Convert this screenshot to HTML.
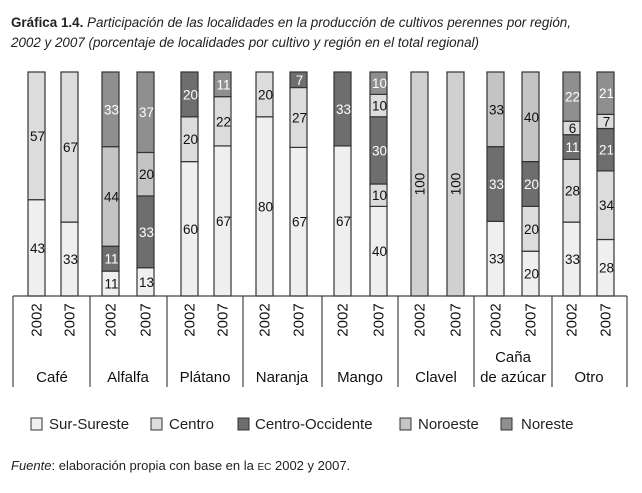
<!DOCTYPE html>
<html><head><meta charset="utf-8"><style>
body{margin:0;background:#fff;width:642px;height:493px;overflow:hidden}
svg{display:block}
text{font-family:"Liberation Sans",sans-serif}
</style></head><body>
<svg width="642" height="493" viewBox="0 0 642 493" xmlns="http://www.w3.org/2000/svg">
<text x="11" y="27" font-size="13.5" fill="#222" textLength="560" lengthAdjust="spacingAndGlyphs"><tspan font-weight="bold">Gráfica 1.4.</tspan><tspan font-style="italic"> Participación de las localidades en la producción de cultivos perennes por región,</tspan></text>
<text x="11" y="47" font-size="13.5" fill="#222" font-style="italic" textLength="468" lengthAdjust="spacingAndGlyphs">2002 y 2007 (porcentaje de localidades por cultivo y región en el total regional)</text>
<g id="bars" stroke="#333" stroke-width="1.2"></g>
<g id="labels" font-size="13.5"></g>
<g stroke="#444" stroke-width="1.2" fill="none">
<line x1="13" y1="296" x2="627" y2="296"/>
<line x1="13" y1="296" x2="13" y2="387"/><line x1="90" y1="296" x2="90" y2="387"/>
<line x1="167" y1="296" x2="167" y2="387"/><line x1="243" y1="296" x2="243" y2="387"/>
<line x1="322" y1="296" x2="322" y2="387"/><line x1="398" y1="296" x2="398" y2="387"/>
<line x1="474" y1="296" x2="474" y2="387"/><line x1="552" y1="296" x2="552" y2="387"/>
<line x1="627" y1="296" x2="627" y2="387"/>
</g>
<g id="years" font-size="15" fill="#111"></g>
<g font-size="15" fill="#111" text-anchor="middle">
<text x="52" y="382">Café</text><text x="128" y="382">Alfalfa</text>
<text x="205" y="382">Plátano</text><text x="282" y="382">Naranja</text>
<text x="360" y="382">Mango</text><text x="436" y="382">Clavel</text>
<text x="513" y="362">Caña</text><text x="513" y="382">de azúcar</text>
<text x="589" y="382">Otro</text>
</g>
<g stroke="#333" stroke-width="1">
<rect x="31" y="418" width="11" height="12" fill="#efefef"/>
<rect x="151" y="418" width="11" height="12" fill="#dcdcdc"/>
<rect x="238" y="418" width="11" height="12" fill="#6e6e6e"/>
<rect x="400" y="418" width="11" height="12" fill="#c4c4c4"/>
<rect x="501" y="418" width="11" height="12" fill="#8f8f8f"/>
</g>
<g font-size="15" fill="#222">
<text x="49" y="429">Sur-Sureste</text><text x="169" y="429">Centro</text>
<text x="255" y="429">Centro-Occidente</text><text x="418" y="429">Noroeste</text>
<text x="521" y="429">Noreste</text>
</g>
<text x="11" y="470" font-size="13" fill="#222"><tspan font-style="italic">Fuente</tspan>: elaboración propia con base en la <tspan font-size="10">EC</tspan> 2002 y 2007.</text>
</svg>
<script>
var S="#efefef",C="#dcdcdc",O="#6e6e6e",N="#c4c4c4",E="#8f8f8f";
var d=[[28,[[43,S],[57,C]]],[61,[[33,S],[67,C]]],
[102,[[11,S],[11,O],[44,N],[33,E]]],[137,[[13,S],[33,O],[20,N],[37,E]]],
[181,[[60,S],[20,C],[20,O]]],[214,[[67,S],[22,C],[11,E]]],
[256,[[80,S],[20,C]]],[290,[[67,S],[27,C],[7,O]]],
[334,[[67,S],[33,O]]],[370,[[40,S],[10,C],[30,O],[10,C],[10,E]]],
[411,[[100,"#d0d0d0"]]],[447,[[100,"#d0d0d0"]]],
[487,[[33,S],[33,O],[33,N]]],[522,[[20,S],[20,C],[20,O],[40,N]]],
[563,[[33,S],[28,C],[11,O],[6,C],[22,E]]],[597,[[28,S],[34,C],[21,O],[7,C],[21,E]]]];
var ns="http://www.w3.org/2000/svg",bg=document.getElementById("bars"),lg=document.getElementById("labels"),yg=document.getElementById("years");
function el(t,a,p){var e=document.createElementNS(ns,t);for(var k in a)e.setAttribute(k,a[k]);p.appendChild(e);return e;}
d.forEach(function(b,i){var x=b[0],w=17,tot=0;b[1].forEach(function(s){tot+=s[0]});
var y=296;b[1].forEach(function(s){var h=224*s[0]/tot;y-=h;
el("rect",{x:x,y:y,width:w,height:h,fill:s[1]},bg);
var fc=(s[1]==O||s[1]==E)?"#fff":"#111";
if(b[1].length==1){var t=el("text",{x:0,y:0,fill:fc,"text-anchor":"middle",transform:"translate("+(x+w/2+5)+","+(y+h/2)+") rotate(-90)"},lg);t.textContent=s[0];}
else{var t=el("text",{x:x+w/2+1,y:y+h/2+5,fill:fc,"text-anchor":"middle"},lg);t.textContent=s[0];}
});
var t=el("text",{x:0,y:0,"text-anchor":"middle",transform:"translate("+(x+w/2+5)+",320) rotate(-90)"},yg);t.textContent=i%2?"2007":"2002";
});
</script>
</body></html>
